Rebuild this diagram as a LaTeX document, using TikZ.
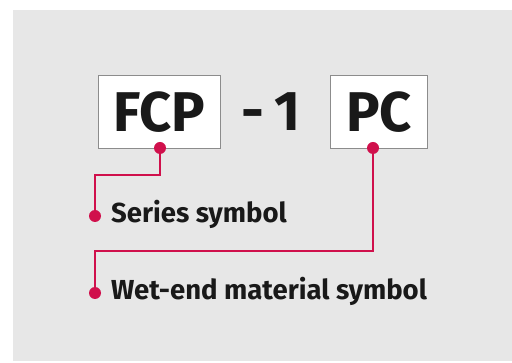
\documentclass[tikz,border=0pt]{standalone}
\usepackage{fontspec}
\setmainfont{Fira Sans}
\definecolor{panel}{HTML}{E7E7E7}
\definecolor{leader}{HTML}{D0104C}
\definecolor{boxline}{HTML}{8C8C8C}
\begin{document}
\begin{tikzpicture}[x=1pt,y=-1pt,
  codebox/.style={draw=boxline,line width=0.8pt,fill=white,inner sep=0pt,minimum height=73pt,anchor=north west},
  code/.style={font=\fontsize{56}{56}\selectfont\bfseries,text=black!90},
  lbl/.style={font=\fontsize{27.5}{27.5}\selectfont\bfseries,text=black!90,anchor=west,inner sep=0pt},
  lead/.style={draw=leader,line width=1.8pt},
  dot/.style={circle,fill=leader,inner sep=0pt,minimum size=12pt}]
\useasboundingbox (0,0) rectangle (512,363);
\fill[white] (0,0) rectangle (512,363);
\fill[panel] (13,10) rectangle (512,361);
\node[codebox,minimum width=122pt] (fcpbox) at (98,75) {};
\node[code] (fcp) at (fcpbox.center) {FCP};
\node[codebox,minimum width=97pt] (pcbox) at (330,75) {};
\node[code] (pc) at (pcbox.center) {PC};
\node[code,anchor=center] (num) at (271,112) {-\,1};
\node[dot] (d1) at (160,148) {};
\node[dot] (d2) at (373,148) {};
\node[dot] (d3) at (95,216) {};
\node[dot] (d4) at (95,293) {};
\node[lbl] (s) at (111,214) {Series symbol};
\node[lbl] (w) at (111,291) {Wet-end material symbol};
\coordinate (c1) at (160,175);
\coordinate (c2) at (95,175);
\coordinate (c3) at (373,251);
\coordinate (c4) at (95,251);
\draw[lead] (d1.center) -- (c1) -- (c2) -- (d3.center);
\draw[lead] (d2.center) -- (c3) -- (c4) -- (d4.center);
\end{tikzpicture}
\end{document}
